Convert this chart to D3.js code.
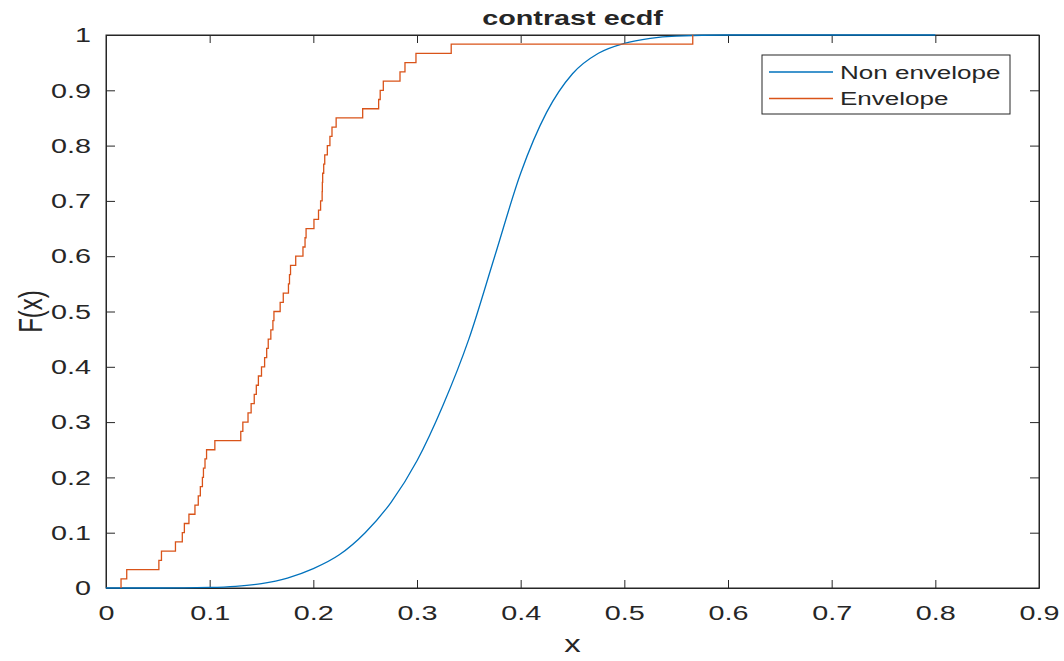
<!DOCTYPE html>
<html>
<head>
<meta charset="utf-8">
<script src="https://cdn.jsdelivr.net/npm/d3@7"></script>
<style>
  body { margin: 0; background: #fff; }
  svg text { font-family: "Liberation Sans", Arial, Helvetica, sans-serif; fill: #262626; }
</style>
</head>
<body>
<div id="chart"></div>
<script>
// sorted sample values of the envelope group (60 samples)
var envelopeSamples = [
  0.0145, 0.020, 0.051, 0.0535, 0.067, 0.0736, 0.0756, 0.080, 0.0858, 0.089,
  0.091, 0.093, 0.094, 0.0955, 0.097, 0.105, 0.130, 0.132, 0.137, 0.140,
  0.143, 0.145, 0.147, 0.150, 0.153, 0.155, 0.1565, 0.159, 0.161, 0.162,
  0.168, 0.171, 0.176, 0.177, 0.178, 0.183, 0.190, 0.192, 0.193, 0.2006,
  0.205, 0.207, 0.2085, 0.2087, 0.209, 0.210, 0.211, 0.2135, 0.216, 0.218,
  0.222, 0.2476, 0.263, 0.2645, 0.2675, 0.2836, 0.2884, 0.299, 0.333, 0.566
];

// non envelope ecdf
var nonEnvX = [0, 0.05, 0.1, 0.125, 0.15, 0.175, 0.2, 0.225, 0.25, 0.275, 0.3, 0.325,
  0.35, 0.375, 0.4, 0.425, 0.45, 0.475, 0.5, 0.525, 0.55, 0.6, 0.7, 0.8];
var nonEnvF = [0, 0, 0.001, 0.003, 0.008, 0.018, 0.035, 0.06, 0.1, 0.155, 0.23, 0.33,
  0.45, 0.6, 0.75, 0.86, 0.93, 0.967, 0.985, 0.994, 0.998, 1, 1, 1];

var xTicks = [0, 0.1, 0.2, 0.3, 0.4, 0.5, 0.6, 0.7, 0.8, 0.9];
var yTicks = [0, 0.1, 0.2, 0.3, 0.4, 0.5, 0.6, 0.7, 0.8, 0.9, 1];
var seriesNames = ["Non envelope", "Envelope"];
var seriesColors = ["#0072BD", "#D95319"];

var width = 1064, height = 661;
var pLeft = 106, pRight = 1039, pTop = 35, pBottom = 588;
var sx = 1.37; // text is drawn wide, like the original export

var svg = d3.select("#chart").append("svg")
  .attr("width", width)
  .attr("height", height);

var x = d3.scaleLinear().domain([0, 0.9]).range([pLeft, pRight]);
var y = d3.scaleLinear().domain([0, 1]).range([pBottom, pTop]);

// axes, ticks pointing inward
var fmt = d3.format("");
var xAxis = svg.append("g")
  .attr("transform", "translate(0," + pBottom + ")")
  .call(d3.axisBottom(x).tickValues(xTicks).tickFormat(fmt).tickSizeInner(-8).tickSizeOuter(0).tickPadding(17));
var yAxis = svg.append("g")
  .attr("transform", "translate(" + pLeft + ",0)")
  .call(d3.axisLeft(y).tickValues(yTicks).tickFormat(fmt).tickSizeInner(-9).tickSizeOuter(0).tickPadding(15));
var xTop = svg.append("g")
  .attr("transform", "translate(0," + pTop + ")")
  .call(d3.axisTop(x).tickValues(xTicks).tickFormat("").tickSizeInner(-8).tickSizeOuter(0));
var yRight = svg.append("g")
  .attr("transform", "translate(" + pRight + ",0)")
  .call(d3.axisRight(y).tickValues(yTicks).tickFormat("").tickSizeInner(-9).tickSizeOuter(0));

[xAxis, yAxis, xTop, yRight].forEach(function(g) {
  g.selectAll("line").attr("stroke", "#262626");
  g.select(".domain").attr("stroke", "#262626");
});

xAxis.selectAll("text")
  .style("font-size", "21px")
  .attr("transform", "scale(" + sx + ",1)");
yAxis.selectAll("text")
  .style("font-size", "21px")
  .attr("x", -15 / sx)
  .attr("transform", "scale(" + sx + ",1)");

// plot box
svg.append("rect")
  .attr("x", pLeft).attr("y", pTop)
  .attr("width", pRight - pLeft).attr("height", pBottom - pTop)
  .attr("fill", "none")
  .attr("stroke", "#262626")
  .attr("stroke-width", 1);

svg.append("clipPath").attr("id", "plotclip")
  .append("rect")
  .attr("x", pLeft).attr("y", pTop - 2)
  .attr("width", pRight - pLeft).attr("height", pBottom - pTop + 4);

// non envelope curve
var blueLine = d3.line()
  .x(function(d, i) { return x(nonEnvX[i]); })
  .y(function(d) { return y(d); })
  .curve(d3.curveMonotoneX);

svg.append("path")
  .datum(nonEnvF)
  .attr("clip-path", "url(#plotclip)")
  .attr("fill", "none")
  .attr("stroke", seriesColors[0])
  .attr("stroke-width", 1.3)
  .attr("d", blueLine);

// envelope ecdf as stairs
var n = envelopeSamples.length;
var ecdfPts = [[envelopeSamples[0], 0]].concat(
  envelopeSamples.map(function(v, i) { return [v, (i + 1) / n]; })
);

var stairs = d3.line()
  .x(function(d) { return x(d[0]); })
  .y(function(d) { return y(d[1]); })
  .curve(d3.curveStepAfter);

svg.append("path")
  .datum(ecdfPts)
  .attr("fill", "none")
  .attr("stroke", seriesColors[1])
  .attr("stroke-width", 1.3)
  .attr("d", stairs);

// title and axis labels
svg.append("text")
  .attr("transform", "translate(" + ((pLeft + pRight) / 2) + ",25) scale(" + sx + ",1)")
  .attr("text-anchor", "middle")
  .style("font-size", "21px")
  .style("font-weight", "bold")
  .text("contrast ecdf");

svg.append("text")
  .attr("transform", "translate(" + ((pLeft + pRight) / 2) + ",652) scale(" + sx + ",1)")
  .attr("text-anchor", "middle")
  .style("font-size", "24px")
  .text("x");

svg.append("text")
  .attr("transform", "translate(30," + ((pTop + pBottom) / 2) + ") scale(" + sx + ",1) rotate(-90)")
  .attr("text-anchor", "middle")
  .attr("dy", "0.35em")
  .style("font-size", "24px")
  .text("F(x)");

// legend
var legend = svg.append("g");
legend.append("rect")
  .attr("x", 762).attr("y", 55)
  .attr("width", 248).attr("height", 59)
  .attr("fill", "#fff")
  .attr("stroke", "#262626")
  .attr("stroke-width", 1);

seriesNames.forEach(function(name, i) {
  var ly = 72 + i * 26.5;
  legend.append("line")
    .attr("x1", 769).attr("x2", 833)
    .attr("y1", ly).attr("y2", ly)
    .attr("stroke", seriesColors[i])
    .attr("stroke-width", 1.3);
  legend.append("text")
    .attr("transform", "translate(840," + ly + ") scale(" + sx + ",1)")
    .attr("dy", "0.35em")
    .style("font-size", "19px")
    .text(name);
});
</script>
</body>
</html>
